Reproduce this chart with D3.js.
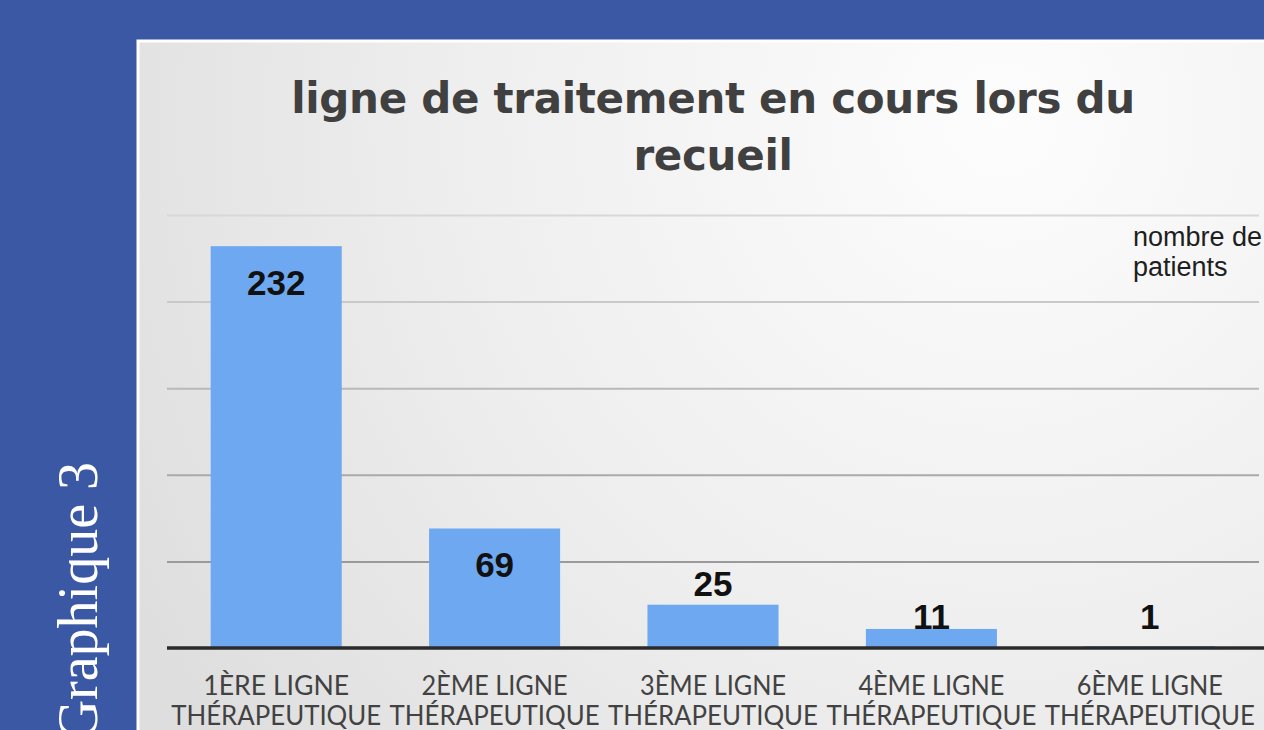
<!DOCTYPE html>
<html lang="fr">
<head>
<meta charset="UTF-8">
<title>ligne de traitement en cours lors du recueil</title>
<style>
  body { margin: 0; background: #3a58a4; overflow: hidden; }
  svg { display: block; }
</style>
</head>
<body>
<div id="chart"></div>
<script src="https://cdn.jsdelivr.net/npm/d3@7"></script>
<script>
  // data
  var lines1 = ['1ÈRE LIGNE', '2ÈME LIGNE', '3ÈME LIGNE', '4ÈME LIGNE', '6ÈME LIGNE']
  var lines2 = ['THÉRAPEUTIQUE', 'THÉRAPEUTIQUE', 'THÉRAPEUTIQUE', 'THÉRAPEUTIQUE', 'THÉRAPEUTIQUE']
  var patients = [232, 69, 25, 11, 1]
  var gridTicks = [50, 100, 150, 200, 250]
  var titleLines = ['ligne de traitement en cours lors du', 'recueil']
  var unitLines = ['nombre de', 'patients']

  var width = 1264, height = 730
  var margin = {top: 215, right: 5, bottom: 82, left: 167}

  var svg = d3.select('#chart').append('svg')
      .attr('width', width)
      .attr('height', height)

  var defs = svg.append('defs')
  var grad = defs.append('radialGradient')
      .attr('id', 'panelBg')
      .attr('gradientUnits', 'userSpaceOnUse')
      .attr('cx', 1000).attr('cy', 120).attr('r', 1000)
  grad.append('stop').attr('offset', 0).attr('stop-color', '#fdfdfd')
  grad.append('stop').attr('offset', 0.55).attr('stop-color', '#eeeeee')
  grad.append('stop').attr('offset', 1).attr('stop-color', '#dedede')

  // slide background + side caption
  svg.append('rect').attr('width', width).attr('height', height).attr('fill', '#3a58a4')

  svg.append('text')
      .attr('transform', 'translate(97,462) rotate(-90)')
      .attr('text-anchor', 'end')
      .style('font-family', '"Liberation Serif", serif')
      .style('font-size', '56px')
      .attr('fill', '#ffffff')
      .text('Graphique 3')

  // chart panel
  svg.append('rect')
      .attr('x', 138).attr('y', 41)
      .attr('width', width - 138 + 10).attr('height', height)
      .attr('fill', 'url(#panelBg)')
      .attr('stroke', '#ffffff')
      .attr('stroke-width', 3)

  var g = svg.append('g')

  var x = d3.scaleBand()
      .domain(d3.range(patients.length))
      .range([margin.left, 1259])
      .paddingInner(0.4)
      .paddingOuter(0.2)

  var y = d3.scaleLinear()
      .domain([0, 250])
      .range([height - margin.bottom, margin.top])

  // gridlines
  var grid = g.append('g')
      .attr('transform', 'translate(' + margin.left + ',0)')
      .call(d3.axisLeft(y).tickValues(gridTicks).tickSize(-(1259 - margin.left)).tickFormat(''))
  grid.select('.domain').remove()
  grid.selectAll('.tick line')
      .attr('stroke', function(d) { return d3.interpolateRgb('#d8d8d8', '#9a9a9a')((d - 250) / -200) })
      .attr('stroke-width', 2)

  // bars
  g.selectAll('.bar')
      .data(patients)
    .enter().append('rect')
      .attr('class', 'bar')
      .attr('x', function(d, i) { return x(i) })
      .attr('y', function(d) { return y(d) })
      .attr('width', x.bandwidth())
      .attr('height', function(d) { return y(0) - y(d) })
      .attr('fill', '#6ea8f0')

  // baseline
  g.append('line')
      .attr('x1', margin.left).attr('x2', width)
      .attr('y1', y(0)).attr('y2', y(0))
      .attr('stroke', '#2a2a2a')
      .attr('stroke-width', 3.5)

  // value labels: inside the tall bars, above the short ones
  g.selectAll('.value')
      .data(patients)
    .enter().append('text')
      .attr('class', 'value')
      .attr('x', function(d, i) { return x(i) + x.bandwidth() / 2 })
      .attr('y', function(d) {
        var top = y(d)
        if (y(0) - top > 100) return top + 49
        if (top - 9 > y(0) - 30) return y(0) - 19
        return top - 9
      })
      .attr('text-anchor', 'middle')
      .style('font-family', '"Liberation Sans", Arial, sans-serif')
      .style('font-weight', 'bold')
      .style('font-size', '35px')
      .attr('fill', '#111111')
      .text(function(d) { return d })

  // category labels
  var cat = g.selectAll('.cat')
      .data(patients)
    .enter().append('text')
      .attr('class', 'cat')
      .attr('text-anchor', 'middle')
      .style('font-family', 'Lato, sans-serif')
      .style('font-size', '27px')
      .attr('fill', '#424242')
  cat.append('tspan')
      .attr('x', function(d, i) { return x(i) + x.bandwidth() / 2 })
      .attr('y', 695)
      .attr('textLength', 146)
      .attr('lengthAdjust', 'spacingAndGlyphs')
      .text(function(d, i) { return lines1[i] })
  cat.append('tspan')
      .attr('x', function(d, i) { return x(i) + x.bandwidth() / 2 })
      .attr('y', 725)
      .attr('textLength', 210)
      .attr('lengthAdjust', 'spacingAndGlyphs')
      .text(function(d, i) { return lines2[i] })

  // title
  svg.append('g').selectAll('text')
      .data(titleLines)
    .enter().append('text')
      .attr('x', 713)
      .attr('y', function(d, i) { return 113 + i * 57 })
      .attr('text-anchor', 'middle')
      .style('font-family', '"DejaVu Sans", sans-serif')
      .style('font-weight', 'bold')
      .style('font-size', '42px')
      .style('letter-spacing', '-0.3px')
      .attr('fill', '#404040')
      .text(function(d) { return d })

  // unit note
  svg.append('g').selectAll('text')
      .data(unitLines)
    .enter().append('text')
      .attr('x', 1133)
      .attr('y', function(d, i) { return 246 + i * 30 })
      .style('font-family', '"Liberation Sans", Arial, sans-serif')
      .style('font-size', '27px')
      .attr('fill', '#1e1e1e')
      .text(function(d) { return d })
</script>
</body>
</html>
